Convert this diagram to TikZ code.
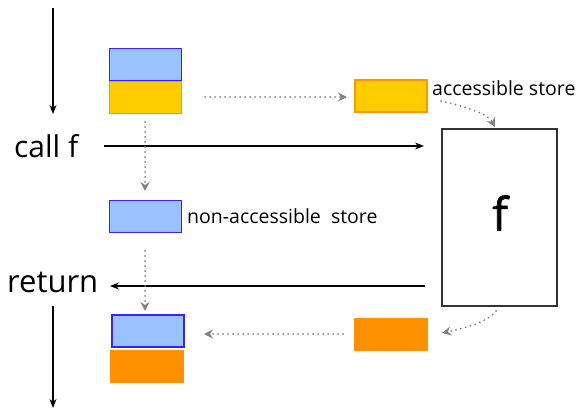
\documentclass[tikz,border=0pt]{standalone}
\usepackage{fontspec}
\setmainfont{Open Sans}
\newfontfamily\medfont[FakeBold=1.5]{Open Sans}
\usetikzlibrary{arrows.meta}
\definecolor{lblue}{RGB}{153,194,255}
\definecolor{dblue}{RGB}{60,30,255}
\definecolor{ylw}{RGB}{255,204,0}
\definecolor{ylwedge}{RGB}{255,150,0}
\definecolor{org}{RGB}{255,145,0}
\definecolor{dotgray}{RGB}{130,130,130}
\tikzset{
  bluebox/.style={draw=dblue, fill=lblue, line width=1.2pt, minimum width=72pt, minimum height=32pt, inner sep=0pt},
  ylwbox/.style={draw=ylwedge, fill=ylw, line width=1.2pt, minimum width=72pt, minimum height=32pt, inner sep=0pt},
  orgbox/.style={fill=org, minimum width=74pt, minimum height=33pt, inner sep=0pt},
  flow/.style={line width=1.2pt, -{Stealth[length=9pt,width=7pt]}},
  dotarr/.style={dotgray, line width=2pt, dash pattern=on 0pt off 5pt, line cap=round, -{Stealth[length=9pt,width=9pt,inset=3pt]}},
  lbl/.style={inner sep=0pt, font=\fontsize{19.5}{21}\selectfont},
  big/.style={inner sep=0pt, font=\fontsize{30}{32}\selectfont}
}
\begin{document}
\begin{tikzpicture}[x=1pt,y=-1pt]
\useasboundingbox (0,0) rectangle (581,409);
% left stack top
\node[bluebox] (b1) at (145.5,64.5) {};
\node[ylwbox] (y1) at (145.5,97.5) {};
% accessible store
\node[ylwbox] (y2) at (391,96) {};
\node[lbl, anchor=west] (acc) at (432,88) {accessible store};
% f box
\node[draw=black!80, line width=1.2pt, minimum width=115pt, minimum height=177pt, inner sep=0pt] (fbox) at (499.5,217.5) {};
\node[inner sep=0pt, font=\fontsize{46}{48}\medfont] (ftxt) at (500,213) {f};
% non-accessible
\node[bluebox] (b2) at (145.5,216.5) {};
\node[lbl, anchor=west] (nacc) at (187,216) {non-accessible\ \ store};
% bottom stack
\node[bluebox] (b3) at (148,331) {};
\node[orgbox] (o1) at (147,366.5) {};
% returned store
\node[orgbox] (o2) at (391,334) {};
% labels
\node[big, anchor=west] (call) at (14,146) {call f};
\node[big, anchor=west, font=\fontsize{31}{33}\selectfont] (ret) at (7,282) {return};
% main flow coordinates
\coordinate (t0) at (53,8);
\coordinate (t1) at (53,114);
\coordinate (t2) at (53,306);
\coordinate (t3) at (53,408);
\coordinate (c0) at (104,146);
\coordinate (c1) at (424,146);
\coordinate (r0) at (425,286);
\coordinate (r1) at (110,286);
\draw[flow] (t0) -- (t1);
\draw[flow] (t2) -- (t3);
\draw[flow] (c0) -- (c1);
\draw[flow] (r0) -- (r1);
% dotted arrows
\draw[dotarr] (145,122) -- (145,191);
\draw[dotarr] (205,97) -- (347,97);
\draw[dotarr] (441,101) .. controls (470,108) and (488,114) .. (495,127);
\draw[dotarr] (145,251) -- (145,311);
\draw[dotarr] (496,311) .. controls (488,322) and (465,328) .. (442,333);
\draw[dotarr] (343,334) -- (204,334);
\end{tikzpicture}
\end{document}
